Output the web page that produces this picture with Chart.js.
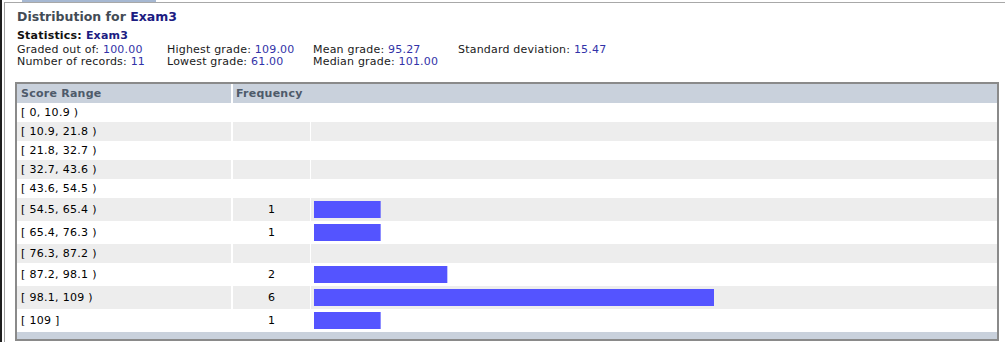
<!DOCTYPE html>
<html><head><meta charset="utf-8">
<script src="https://cdn.jsdelivr.net/npm/chart.js@4/dist/chart.umd.min.js"></script>
<style>
html,body{margin:0;padding:0;background:#fff;width:1005px;height:342px;overflow:hidden;font-family:"DejaVu Sans",Verdana,sans-serif;}
.abs{position:absolute;white-space:nowrap;}
.t16{line-height:16px;height:16px;}
.lbl{color:#1a1a1a;}
.val{color:#3232a8;}
.navy{color:#1c1c82;}
</style></head><body>
<div id="root"></div>
<script>
// ---- data ----
const examName = "Exam3";
const statLabelsRow1 = ["Graded out of:", "Highest grade:", "Mean grade:", "Standard deviation:"];
const statValuesRow1 = ["100.00", "109.00", "95.27", "15.47"];
const statLabelsRow2 = ["Number of records:", "Lowest grade:", "Median grade:"];
const statValuesRow2 = ["11", "61.00", "101.00"];
const columnHeaders = ["Score Range", "Frequency"];
const ranges = ["[ 0, 10.9 )", "[ 10.9, 21.8 )", "[ 21.8, 32.7 )", "[ 32.7, 43.6 )", "[ 43.6, 54.5 )",
  "[ 54.5, 65.4 )", "[ 65.4, 76.3 )", "[ 76.3, 87.2 )", "[ 87.2, 98.1 )", "[ 98.1, 109 )", "[ 109 ]"];
const counts = [0, 0, 0, 0, 0, 1, 1, 0, 2, 6, 1];

// ---- layout ----
const root = document.getElementById('root');
function box(l, t, w, h, bg, extra) {
  const d = document.createElement('div');
  d.className = 'abs';
  Object.assign(d.style, {left: l + 'px', top: t + 'px', width: w + 'px', height: h + 'px', background: bg}, extra || {});
  root.appendChild(d); return d;
}
function text(l, t, html, cls, style) {
  const d = document.createElement('div');
  d.className = 'abs ' + (cls || '');
  d.style.left = l + 'px'; d.style.top = t + 'px';
  Object.assign(d.style, style || {});
  d.innerHTML = html;
  root.appendChild(d); return d;
}
// stretch a text block to a target width with letter spacing
function fitWidth(el, target) {
  const w = el.getBoundingClientRect().width;
  const n = el.textContent.length;
  if (n > 0 && w > 0) el.style.letterSpacing = ((target - w) / n).toFixed(2) + 'px';
}
// page frame
box(0, 0, 2, 342, '#1e1e1e');
box(4, 2, 1001, 1, '#a8a8a8');
box(4, 2, 1, 340, '#a0a0a0');
box(22, 0, 134, 2, '#a6b8d2');

// title + stats
const titleEl = text(17, 9, 'Distribution for <span class="navy">' + examName + '</span>', 't16', {fontSize: '12.5px', fontWeight: 'bold', color: '#434b55'});
fitWidth(titleEl, 160);
const statsHead = text(17, 27.5, 'Statistics: <span class="navy">' + examName + '</span>', 't16', {fontSize: '11px', fontWeight: 'bold', color: '#111'});
fitWidth(statsHead, 111);
const statX = [17, 167, 313, 458];
const statStyle = {fontSize: '11px', letterSpacing: '0.2px'};
statLabelsRow1.forEach((l, i) => text(statX[i], 42.2, '<span class="lbl">' + l + '</span> <span class="val">' + statValuesRow1[i] + '</span>', 't16', statStyle));
statLabelsRow2.forEach((l, i) => text(statX[i], 54.2, '<span class="lbl">' + l + '</span> <span class="val">' + statValuesRow2[i] + '</span>', 't16', statStyle));

// table
const tL = 15, tT = 82, tR = 999, tB = 341;
box(tL, tT, tR - tL, tB - tT, '#fff', {boxSizing: 'border-box', border: '2px solid #8a8a8a'});
const c1L = 17, c1R = 231, c2L = 233, c2R = 310, c3L = 311, c3R = 997;
const headT = 84, headH = 19;
const headBg = '#c9d1dc', altBg = '#ededed';
box(c1L, headT, c1R - c1L, headH, headBg);
box(c2L, headT, c3R - c2L, headH, headBg);
const hs = {fontSize: '11px', fontWeight: 'bold', color: '#4e5a6a', lineHeight: headH + 'px', height: headH + 'px', letterSpacing: '0.25px'};
text(21, headT, columnHeaders[0], '', hs);
text(236, headT, columnHeaders[1], '', hs);

const rowsT = headT + headH;
const rowH = counts.map(c => c > 0 ? 23 : 19);
let acc = 0;
const rowTop = rowH.map(h => { const t = acc; acc += h; return t; });
const rowsTotal = acc;
ranges.forEach((r, i) => {
  const y = rowsT + rowTop[i], h = rowH[i];
  if (i % 2 === 1) {
    box(c1L, y, c1R - c1L, h, altBg);
    box(c2L, y, c2R - c2L, h, altBg);
    box(c3L, y, c3R - c3L, h, altBg);
  }
  const rs = {fontSize: '11px', color: '#000', lineHeight: h + 'px', height: h + 'px', letterSpacing: '0.3px'};
  text(21, y, r, '', rs);
  if (counts[i] > 0) text(c2L, y, String(counts[i]), '', Object.assign({}, rs, {width: (c2R - c2L) + 'px', textAlign: 'center', letterSpacing: '0'}));
});
box(c1L, rowsT + rowsTotal, c3R - c1L, 339 - (rowsT + rowsTotal), headBg);

// chart canvas for bars
const cv = document.createElement('canvas');
cv.width = 400; cv.height = rowsTotal;
cv.className = 'abs';
cv.style.left = '314px'; cv.style.top = rowsT + 'px';
cv.style.width = '400px'; cv.style.height = rowsTotal + 'px';
root.appendChild(cv);
const centers = rowTop.map((t, i) => t + rowH[i] / 2);
const barPoints = counts.map((c, i) => ({x: c, y: centers[i]})).filter(p => p.x > 0);
new Chart(cv.getContext('2d'), {
  type: 'bar',
  data: {
    datasets: [{
      label: 'Frequency',
      data: barPoints,
      backgroundColor: '#5454ff',
      borderWidth: 0,
      inflateAmount: 0,
      barThickness: 17
    }]
  },
  options: {
    indexAxis: 'y',
    responsive: false,
    animation: false,
    devicePixelRatio: 1,
    layout: {padding: 0},
    plugins: {legend: {display: false}, tooltip: {enabled: false}},
    scales: {
      x: {type: 'linear', min: 0, max: Math.max(...counts), display: false, offset: false},
      y: {type: 'linear', min: 0, max: rowsTotal, reverse: true, display: false, offset: false}
    }
  }
});
</script>
</body></html>
